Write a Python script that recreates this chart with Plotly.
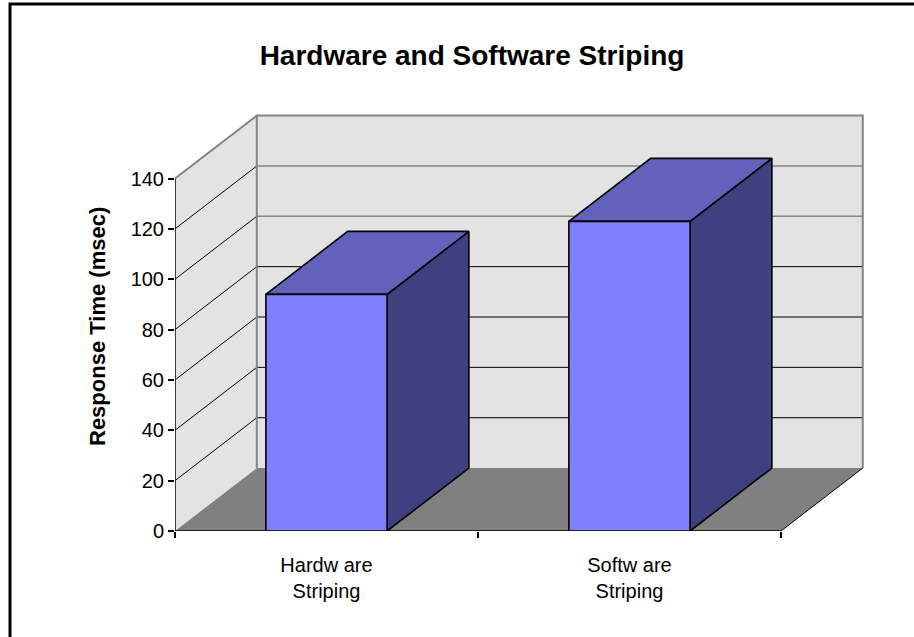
import plotly.graph_objects as go

# ---- data ----
categories = ["Hardw are<br>Striping", "Softw are<br>Striping"]
values = [94, 123]
y_ticks = [0, 20, 40, 60, 80, 100, 120, 140]
chart_title = "Hardware and Software Striping"
y_title = "Response Time (msec)"

# ---- layout / style constants ----
W, H = 914, 637
M_L, M_R, M_T, M_B = 175, 27, 103, 106
X_RANGE = [0, 2.35]
Y_RANGE = [0, 170]
DX = 0.27      # depth offset in category units
DY = 25        # depth offset in value units
BAR_W = 0.4

FRONT = "#8080FF"
TOP = "#6262BD"
SIDE = "#404080"
WALL = "#E3E3E3"
FLOOR = "#808080"
EDGE = "#858585"
FONT = "Liberation Sans, Arial, sans-serif"

n = len(categories)
ymax = y_ticks[-1]
fig = go.Figure()


def poly(xs, ys, fill, line_color="black", lw=0):
    fig.add_trace(go.Scatter(
        x=list(xs) + [xs[0]], y=list(ys) + [ys[0]], mode="lines", fill="toself",
        fillcolor=fill, line=dict(color=line_color, width=lw),
        hoverinfo="skip", showlegend=False))


def seg(xs, ys, color, lw):
    fig.add_trace(go.Scatter(
        x=xs, y=ys, mode="lines", line=dict(color=color, width=lw),
        hoverinfo="skip", showlegend=False))


# walls
poly([0, 0, DX, DX], [0, ymax, ymax + DY, DY], WALL)
poly([DX, DX, n + DX, n + DX], [DY, ymax + DY, ymax + DY, DY], WALL)

# gridlines
for v in y_ticks[1:-1]:
    seg([0, DX], [v, v + DY], "black", 1)
    seg([DX, n + DX], [v + DY, v + DY], EDGE if v >= 100 else "black", 1.6 if v >= 100 else 1)

# wall edges
seg([DX, DX], [DY, ymax + DY], EDGE, 2)
seg([0, DX, n + DX, n + DX], [ymax, ymax + DY, ymax + DY, DY], EDGE, 2)

# floor
poly([0, n, n + DX, DX], [0, 0, DY, DY], FLOOR)
seg([n, n + DX], [0, DY], "black", 1)
seg([0, n], [0, 0], "black", 1.5)
seg([0, 0], [0, ymax], "black", 1.5)

# bars
for i, v in enumerate(values):
    c = i + 0.5
    l, r = c - BAR_W / 2, c + BAR_W / 2
    poly([r, r + DX, r + DX, r], [0, DY, v + DY, v], SIDE, "black", 1.6)
    poly([l, r, r + DX, l + DX], [v, v, v + DY, v + DY], TOP, "black", 1.6)
    poly([l, r, r, l], [0, 0, v, v], FRONT, "black", 1.6)

plot_w = W - M_L - M_R
plot_h = H - M_T - M_B


def px_x(p):
    return (p - M_L) / plot_w


def px_y(p):
    return (H - M_B - p) / plot_h


fig.add_annotation(
    text="<b>" + y_title + "</b>", xref="paper", yref="paper",
    x=px_x(97), y=px_y(327), textangle=-90, showarrow=False,
    font=dict(family=FONT, size=22, color="black"),
    xanchor="center", yanchor="middle")

fig.add_shape(type="rect", xref="paper", yref="paper",
              x0=px_x(10), x1=px_x(W + 20), y0=px_y(H + 20), y1=px_y(4),
              line=dict(color="black", width=3), fillcolor="rgba(0,0,0,0)",
              layer="above")

fig.update_layout(
    width=W, height=H,
    margin=dict(l=M_L, r=M_R, t=M_T, b=M_B),
    paper_bgcolor="white", plot_bgcolor="white",
    font=dict(family=FONT, size=20, color="black"),
    title=dict(text="<b>" + chart_title + "</b>", x=472 / W, y=1 - 55 / H,
               xref="container", yref="container", xanchor="center", yanchor="middle",
               font=dict(family=FONT, size=28, color="black")),
    xaxis=dict(range=X_RANGE, showgrid=False, zeroline=False, showline=False,
               tickmode="array", tickvals=[i + 0.5 for i in range(n)], ticktext=categories,
               ticks="", ticklabelstandoff=20,
               minor=dict(tickmode="array", tickvals=list(range(n + 1)), ticks="outside",
                          ticklen=6, tickcolor="black", tickwidth=1.5, showgrid=False)),
    yaxis=dict(range=Y_RANGE, showgrid=False, zeroline=False, showline=False,
               tickmode="array", tickvals=y_ticks, ticks="outside", ticklen=6,
               tickcolor="black", tickwidth=1.5),
    showlegend=False,
)

fig.write_html("out.html")
